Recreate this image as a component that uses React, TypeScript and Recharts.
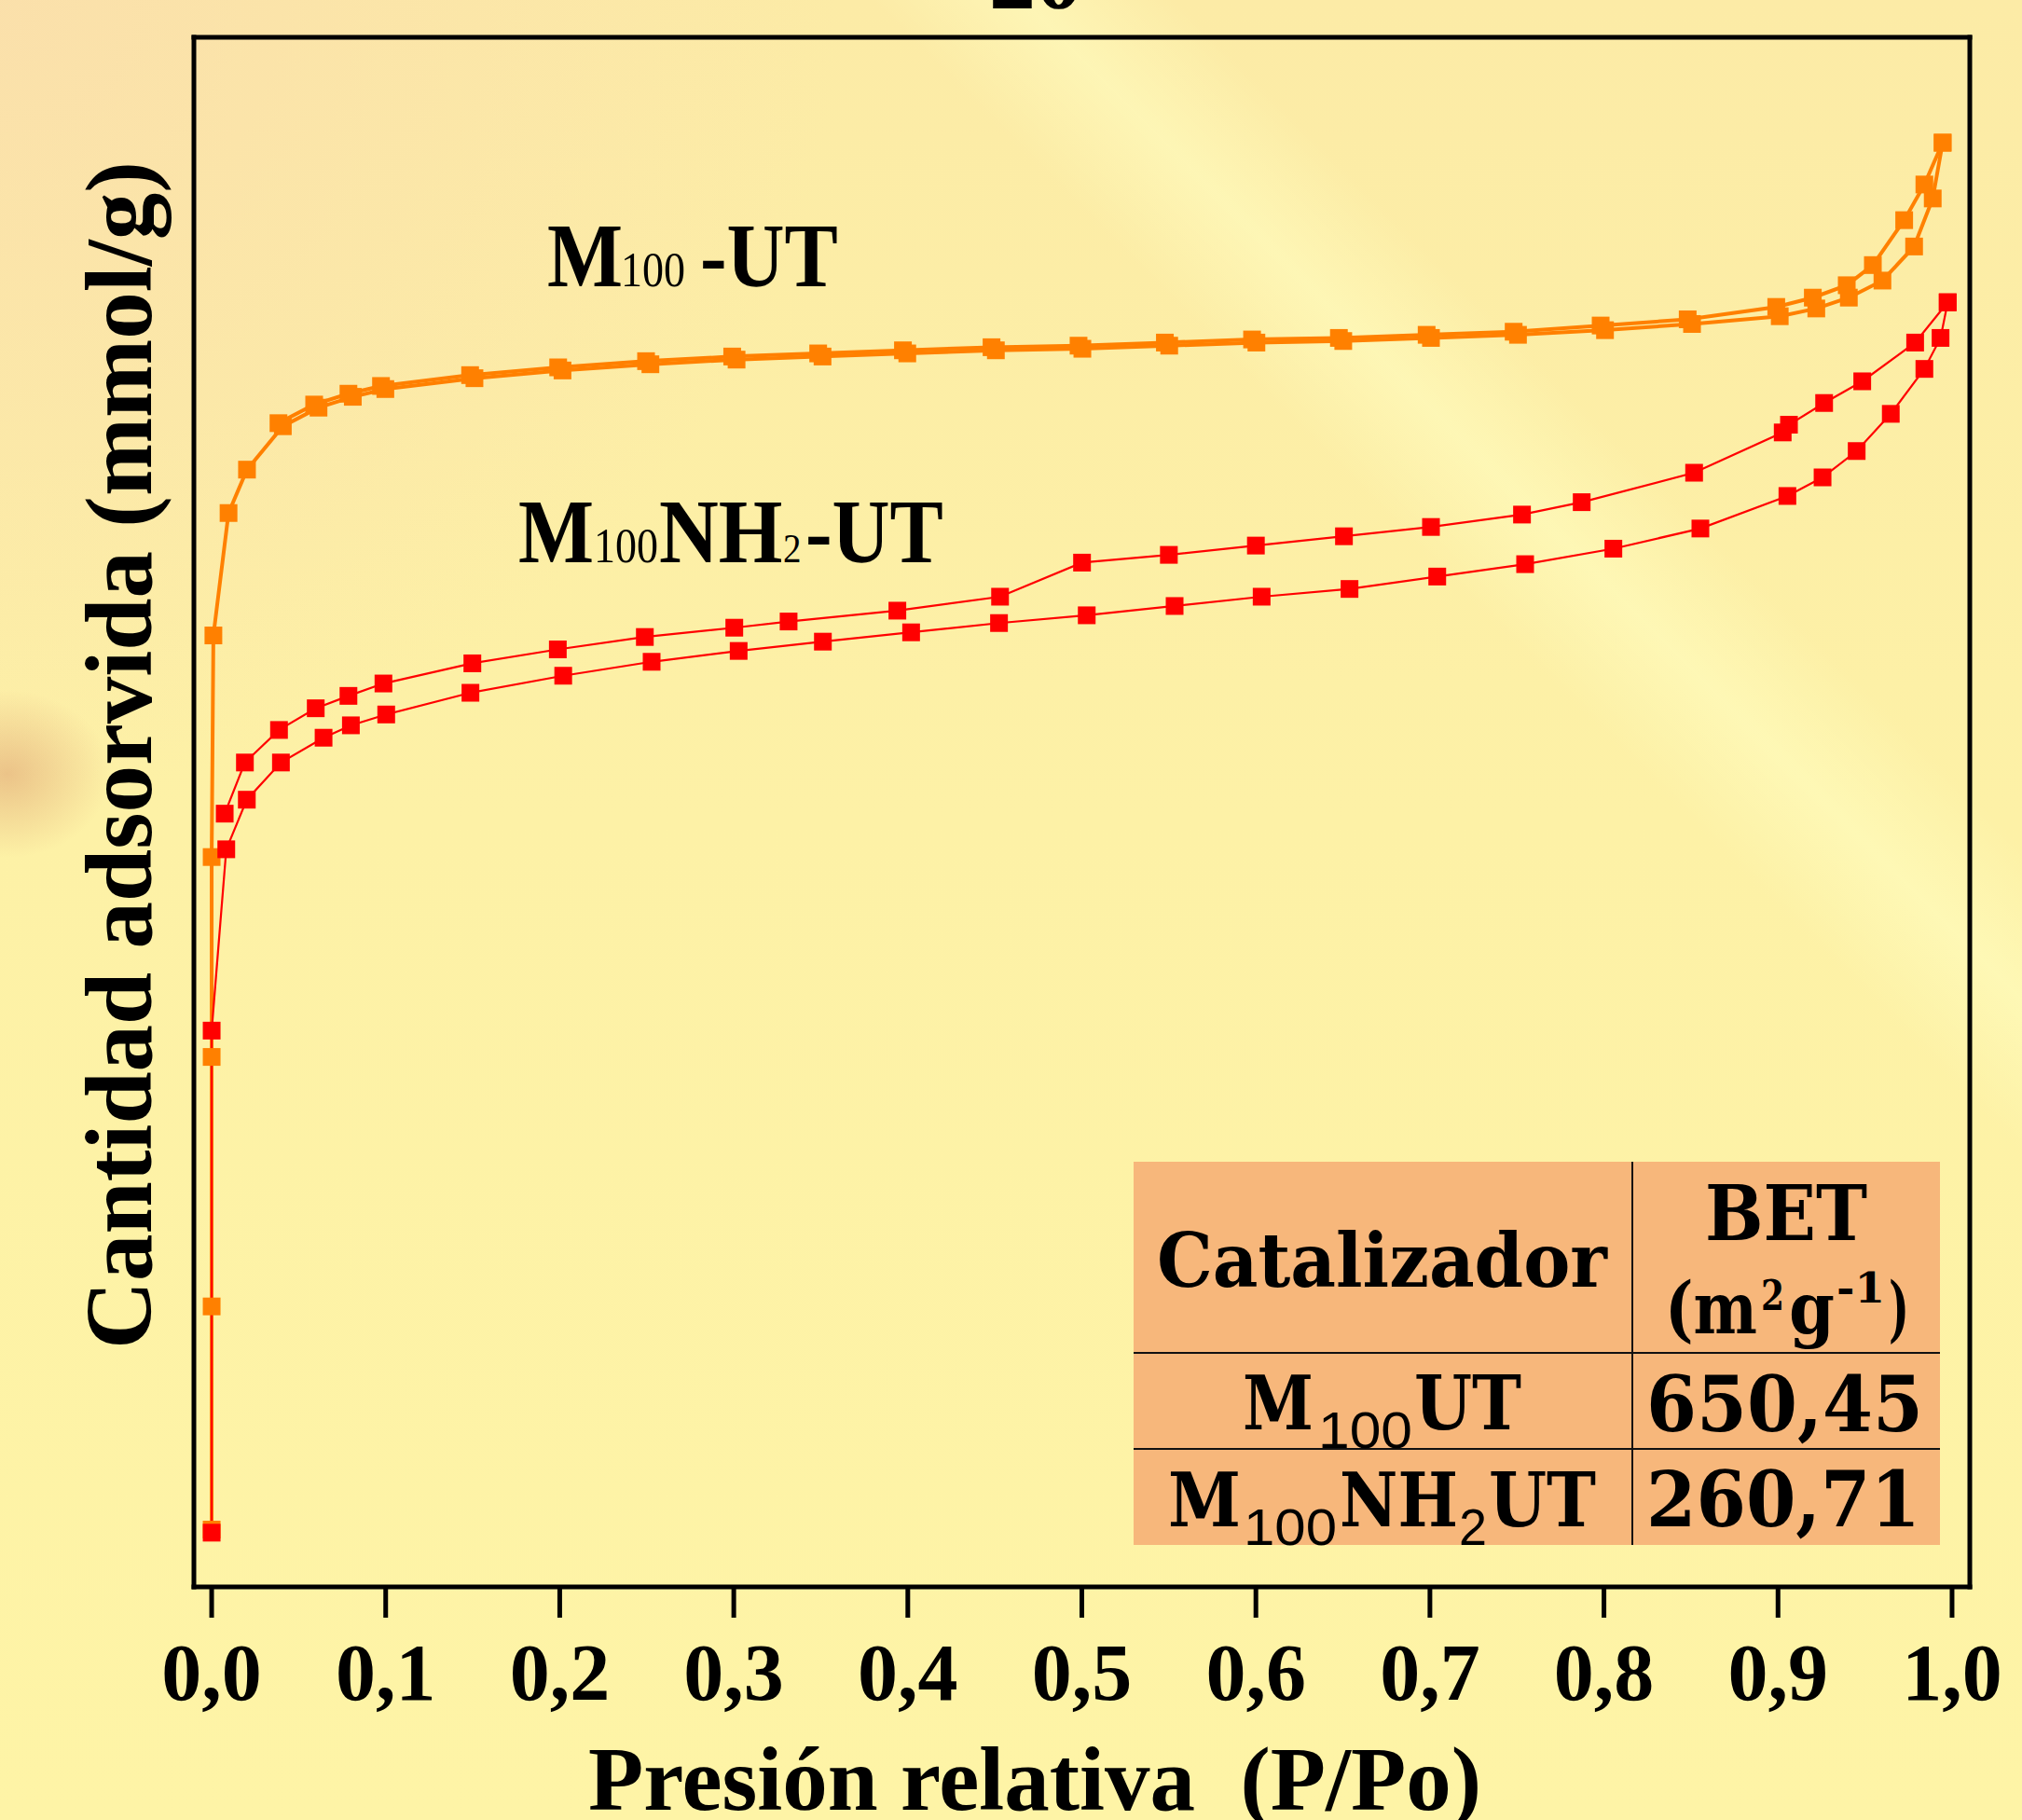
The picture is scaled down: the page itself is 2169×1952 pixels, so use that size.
import React from 'react';
import { LineChart, Line, XAxis, YAxis } from 'recharts';

const WIDTH = 2169;
const HEIGHT = 1952;

// ---------- axis ----------
const xTickValues = [0, 0.1, 0.2, 0.3, 0.4, 0.5, 0.6, 0.7, 0.8, 0.9, 1.0];
const xTickLabels = ['0,0', '0,1', '0,2', '0,3', '0,4', '0,5', '0,6', '0,7', '0,8', '0,9', '1,0'];
const xDomain: [number, number] = [-0.0102, 1.0102];
const yDomain: [number, number] = [0, 10];

// ---------- M100-UT (orange) ----------
const m100AdsP = [0, 0, 0, 0, 0.001, 0.0097, 0.0203, 0.0409, 0.0614, 0.0811, 0.0998, 0.151, 0.2016, 0.2521, 0.3016, 0.351, 0.3997, 0.4506, 0.5003, 0.5502, 0.6003, 0.6502, 0.7006, 0.7506, 0.8006, 0.8506, 0.901, 0.922, 0.9407, 0.96, 0.9782, 0.9889, 0.9946];
const m100AdsQ = [0.37, 1.81, 3.42, 4.71, 6.14, 6.93, 7.21, 7.49, 7.61, 7.68, 7.73, 7.8, 7.85, 7.89, 7.92, 7.94, 7.96, 7.98, 7.99, 8.01, 8.03, 8.04, 8.06, 8.08, 8.11, 8.15, 8.2, 8.25, 8.32, 8.43, 8.65, 8.96, 9.32];
const m100DesP = [0.9946, 0.9841, 0.9725, 0.9545, 0.9395, 0.92, 0.899, 0.8481, 0.7981, 0.7481, 0.6981, 0.6477, 0.5978, 0.5477, 0.4981, 0.4481, 0.3972, 0.3485, 0.2991, 0.2496, 0.1991, 0.1485, 0.0973, 0.0786, 0.0589, 0.0384];
const m100DesQ = [9.32, 9.05, 8.82, 8.53, 8.4, 8.32, 8.26, 8.18, 8.14, 8.1, 8.08, 8.06, 8.05, 8.03, 8.01, 8.0, 7.98, 7.96, 7.94, 7.91, 7.87, 7.82, 7.75, 7.7, 7.63, 7.51];

// ---------- M100NH2-UT (red) ----------
const nh2AdsP = [0, 0, 0.0084, 0.0202, 0.0398, 0.0643, 0.08, 0.1003, 0.1487, 0.202, 0.2528, 0.3028, 0.3512, 0.4019, 0.4524, 0.5028, 0.5533, 0.6033, 0.6538, 0.7042, 0.7547, 0.8054, 0.8554, 0.9054, 0.9256, 0.9452, 0.9648, 0.9841, 0.9934, 0.9975];
const nh2AdsQ = [0.35, 3.59, 4.76, 5.08, 5.32, 5.48, 5.56, 5.63, 5.77, 5.88, 5.97, 6.04, 6.1, 6.16, 6.22, 6.27, 6.33, 6.39, 6.44, 6.52, 6.6, 6.7, 6.83, 7.04, 7.16, 7.33, 7.57, 7.86, 8.06, 8.29];
const nh2DesP = [0.9975, 0.9788, 0.9484, 0.9265, 0.9063, 0.9027, 0.8518, 0.7872, 0.7529, 0.7006, 0.6506, 0.6, 0.55, 0.5001, 0.453, 0.394, 0.3315, 0.3003, 0.2489, 0.1989, 0.1498, 0.0987, 0.0786, 0.0598, 0.0387, 0.0191, 0.0075];
const nh2DesQ = [8.29, 8.03, 7.78, 7.64, 7.5, 7.45, 7.19, 7.0, 6.92, 6.84, 6.78, 6.72, 6.66, 6.61, 6.39, 6.3, 6.23, 6.19, 6.13, 6.05, 5.96, 5.83, 5.75, 5.67, 5.53, 5.32, 4.99];

// ---------- table ----------
const tableHeaders = ['Catalizador', 'BET'];
const betUnit = ['(m', '2', 'g', '-1', ')'];
const catalystBase = ['M', 'M'];
const catalystSub = ['100', '100'];
const catalystMid = ['UT', 'NH'];
const catalystTail = ['', 'UT'];
const betValues = ['650,45', '260,71'];

const zip = (p: number[], q: number[]) => p.map((x, i) => ({ x, y: q[i] }));

const ORANGE = '#FF8000';
const RED = '#FF0000';
const SERIF = "'Liberation Serif', 'Times New Roman', serif";
const SLAB = "'DejaVu Serif', serif";
const SANS = "'Liberation Sans', Arial, sans-serif";

const square = (color: string) => (props: any) => {
  const { cx, cy, index } = props;
  if (cx == null || cy == null) return <g key={`e${index}`} />;
  return <rect key={`s${index}`} x={cx - 9.5} y={cy - 9.5} width={19} height={19} fill={color} />;
};

const XTick = (props: any) => {
  const { x, y, index } = props;
  return (
    <text x={x} y={y + 86} textAnchor="middle" fontFamily={SERIF} fontWeight="bold" fontSize={86} fill="#000">
      {xTickLabels[index]}
    </text>
  );
};

const frameLine = { stroke: '#000', strokeWidth: 5, strokeLinecap: 'square' as const };

const Piece = ({ t, x, y, size, bold = true, sx = 0.885, font = SERIF }: any) => (
  <text
    transform={`translate(${x},${y}) scale(${sx},1)`}
    fontFamily={font}
    fontWeight={bold ? 'bold' : 'normal'}
    fontSize={size}
    fill="#000"
  >
    {t}
  </text>
);

const TT = ({ t, x, y, size, len, bold = true, font = SLAB }: any) => (
  <text
    x={x}
    y={y}
    fontFamily={font}
    fontWeight={bold ? 'bold' : 'normal'}
    fontSize={size}
    textLength={len}
    lengthAdjust="spacingAndGlyphs"
    fill="#000"
  >
    {t}
  </text>
);

const background = [
  'radial-gradient(ellipse 110px 90px at 8px 830px, rgba(214,140,100,0.45), rgba(214,140,100,0) 100%)',
  'linear-gradient(45deg, rgba(255,255,200,0) 70%, rgba(255,255,196,0.5) 74%, rgba(255,255,200,0) 78%)',
  'radial-gradient(ellipse 900px 850px at 0px 0px, rgba(250,220,172,0.75), rgba(250,220,172,0) 100%)',
  'linear-gradient(180deg, #FCEBA6 0%, #FDF1A6 45%, #FEF4A6 100%)',
].join(',');

export default function App() {
  return (
    <div style={{ position: 'absolute', left: 0, top: 0, width: WIDTH, height: HEIGHT, overflow: 'hidden', background }}>
      <LineChart width={WIDTH} height={HEIGHT} margin={{ top: 39, right: 55, bottom: 100, left: 207 }}>
        <XAxis
          xAxisId="bottom"
          type="number"
          dataKey="x"
          domain={xDomain}
          allowDataOverflow
          ticks={xTickValues}
          interval={0}
          height={150}
          tickSize={33}
          tickLine={{ stroke: '#000', strokeWidth: 5 }}
          axisLine={frameLine}
          tick={<XTick />}
        />
        <XAxis
          xAxisId="top"
          orientation="top"
          type="number"
          dataKey="x"
          domain={xDomain}
          allowDataOverflow
          ticks={xTickValues}
          height={1}
          tick={false}
          tickLine={false}
          axisLine={frameLine}
        />
        <YAxis
          yAxisId="left"
          type="number"
          domain={yDomain}
          allowDataOverflow
          ticks={[0, 10]}
          width={1}
          tick={false}
          tickLine={false}
          axisLine={frameLine}
        />
        <YAxis
          yAxisId="right"
          orientation="right"
          type="number"
          domain={yDomain}
          allowDataOverflow
          ticks={[0, 10]}
          width={1}
          tick={false}
          tickLine={false}
          axisLine={frameLine}
        />
        <Line xAxisId="bottom" yAxisId="left" data={zip(m100AdsP, m100AdsQ)} dataKey="y" type="linear" stroke={ORANGE} strokeWidth={4} dot={square(ORANGE)} activeDot={false} isAnimationActive={false} />
        <Line xAxisId="bottom" yAxisId="left" data={zip(m100DesP, m100DesQ)} dataKey="y" type="linear" stroke={ORANGE} strokeWidth={4} dot={square(ORANGE)} activeDot={false} isAnimationActive={false} />
        <Line xAxisId="bottom" yAxisId="left" data={zip(nh2AdsP, nh2AdsQ)} dataKey="y" type="linear" stroke={RED} strokeWidth={2.2} dot={square(RED)} activeDot={false} isAnimationActive={false} />
        <Line xAxisId="bottom" yAxisId="left" data={zip(nh2DesP, nh2DesQ)} dataKey="y" type="linear" stroke={RED} strokeWidth={2.2} dot={square(RED)} activeDot={false} isAnimationActive={false} />
      </LineChart>

      <svg width={WIDTH} height={HEIGHT} style={{ position: 'absolute', left: 0, top: 0, pointerEvents: 'none' }}>
        {/* cut-off title */}
        <text x={1111} y={8} textAnchor="middle" fontFamily={SERIF} fontWeight="bold" fontSize={100} fill="#000">20</text>

        {/* axis titles */}
        <text x={1110} y={1941} textAnchor="middle" fontFamily={SERIF} fontWeight="bold" fontSize={97} fill="#000">
          {'Presión relativa\u00A0 (P/Po)'}
        </text>
        <text x={162} y={810} transform="rotate(-90,162,810)" textAnchor="middle" fontFamily={SERIF} fontWeight="bold" fontSize={101} fill="#000">
          Cantidad adsorvida (mmol/g)
        </text>

        {/* series annotations */}
        <Piece t="M" x={587} y={307} size={97} />
        <Piece t="100" x={666} y={307} size={52} bold={false} />
        <Piece t="-UT" x={751} y={307} size={97} />

        <Piece t="M" x={556} y={603} size={97} />
        <Piece t="100" x={637} y={603} size={52} bold={false} />
        <Piece t="NH" x={707} y={603} size={97} sx={0.91} />
        <Piece t="2" x={840} y={603} size={44} bold={false} />
        <Piece t="-UT" x={864} y={603} size={97} />

        {/* BET table */}
        <rect x={1216} y={1246} width={865} height={411} fill="#F7B77B" />
        <line x1={1751} y1={1246} x2={1751} y2={1657} stroke="#111" strokeWidth={2} />
        <line x1={1216} y1={1451} x2={2081} y2={1451} stroke="#111" strokeWidth={2} />
        <line x1={1216} y1={1554} x2={2081} y2={1554} stroke="#111" strokeWidth={2} />

        <TT t={tableHeaders[0]} x={1241} y={1380} size={80} len={483} />
        <TT t={tableHeaders[1]} x={1829} y={1330} size={82} len={174} />
        <TT t={betUnit[0]} x={1786} y={1430} size={76} len={99} />
        <TT t={betUnit[1]} x={1889} y={1405} size={44} len={25} />
        <TT t={betUnit[2]} x={1919} y={1430} size={76} len={49} />
        <TT t={betUnit[3]} x={1970} y={1397} size={44} len={52} />
        <TT t={betUnit[4]} x={2026} y={1430} size={76} len={22} />

        {/* row 1 */}
        <TT t={catalystBase[0]} x={1333} y={1533} size={80} len={76} />
        <TT t={catalystSub[0]} x={1414} y={1553} size={56} len={101} bold={false} font={SANS} />
        <TT t={catalystMid[0]} x={1517} y={1533} size={80} len={115} />
        <TT t={betValues[0]} x={1766} y={1535} size={82} len={297} />

        {/* row 2 */}
        <TT t={catalystBase[1]} x={1253} y={1637} size={80} len={78} />
        <TT t={catalystSub[1]} x={1334} y={1657} size={56} len={100} bold={false} font={SANS} />
        <TT t={catalystMid[1]} x={1437} y={1637} size={80} len={127} />
        <TT t="2" x={1565} y={1657} size={56} len={30} bold={false} font={SANS} />
        <TT t={catalystTail[1]} x={1597} y={1637} size={80} len={115} />
        <TT t={betValues[1]} x={1766} y={1637} size={82} len={294} />
      </svg>
    </div>
  );
}
